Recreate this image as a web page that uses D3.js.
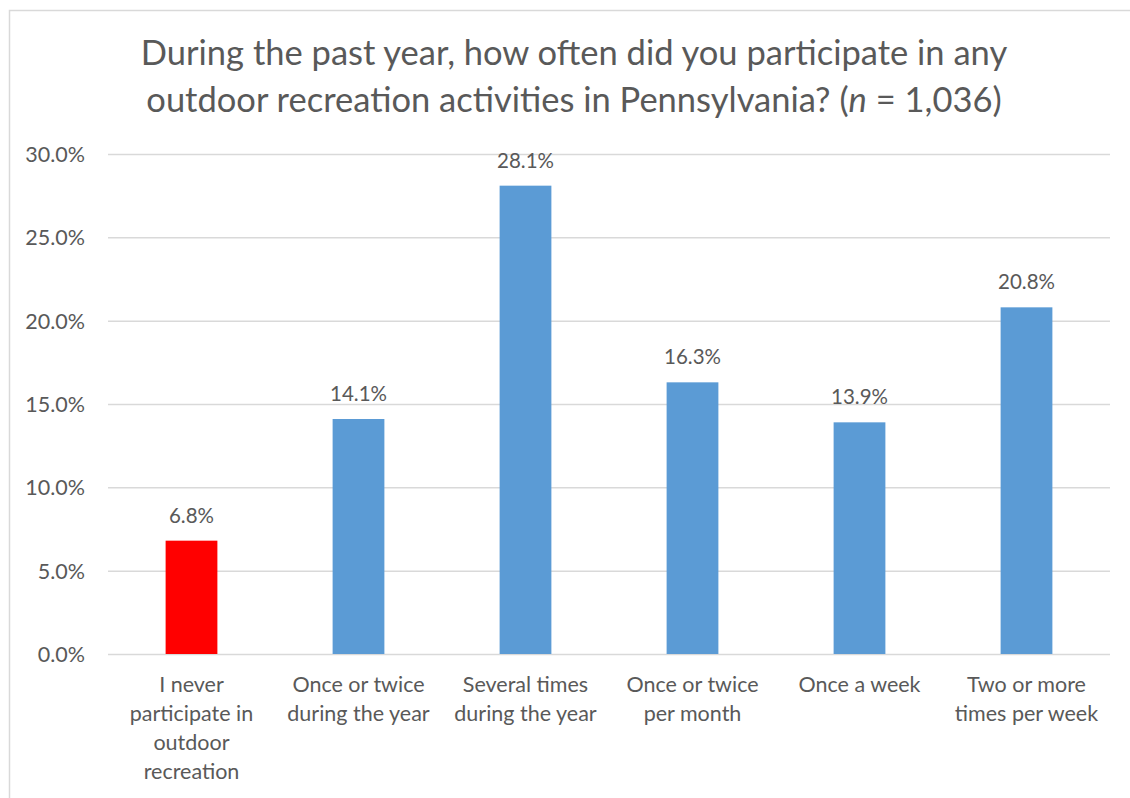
<!DOCTYPE html>
<html><head><meta charset="utf-8">
<script src="https://cdn.jsdelivr.net/npm/d3@7"></script>
<style>body{margin:0;background:#fff}svg{display:block}text{font-family:Lato,"Open Sans",sans-serif;fill:#595959}</style>
</head><body>
<svg id="c" width="1130" height="798"></svg>
<script>
const categories = [
  ["I never","participate in","outdoor","recreation"],
  ["Once or twice","during the year"],
  ["Several times","during the year"],
  ["Once or twice","per month"],
  ["Once a week"],
  ["Two or more","times per week"]
];
const values = [6.8, 14.1, 28.1, 16.3, 13.9, 20.8];
const barColors = ["#FF0000","#5B9BD5","#5B9BD5","#5B9BD5","#5B9BD5","#5B9BD5"];
const yTicks = [0,5,10,15,20,25,30];

(function(){
const svg = d3.select("#c");
svg.append("rect").attr("x",9.5).attr("y",10.5).attr("width",1140).attr("height",800)
  .attr("fill","#fff").attr("stroke","#d9d9d9").attr("stroke-width",1.5);

const pl=108, pr=1110, pt=154, pb=654;
const x = d3.scaleBand().domain(d3.range(categories.length)).range([pl,pr]).paddingInner(0.69).paddingOuter(0.345);
const y = d3.scaleLinear().domain([0,30]).range([pb,pt]);

const title = svg.append("text").attr("text-anchor","middle").style("font-size","34.5px");
title.append("tspan").attr("x",574).attr("y",65).text("During the past year, how often did you participate in any");
const t2 = title.append("tspan").attr("x",574).attr("y",112);
t2.append("tspan").text("outdoor recreation activities in Pennsylvania? (");
t2.append("tspan").style("font-style","italic").text("n");
t2.append("tspan").text(" = 1,036)");

const yAxis = d3.axisLeft(y).tickValues(yTicks).tickSize(-(pr-pl)).tickFormat(d=>d3.format(".1f")(d)+"%");
const ga = svg.append("g").attr("transform",`translate(${pl},0)`).call(yAxis);
ga.select(".domain").remove();
ga.selectAll(".tick line").attr("stroke","#d9d9d9").attr("stroke-width",1.5);
ga.selectAll(".tick text").attr("x",-23).attr("dy","0.35em").style("font-size","21.5px").attr("fill","#595959");

svg.selectAll("rect.bar").data(values).join("rect").attr("class","bar")
  .attr("x",(d,i)=>x(i)).attr("width",x.bandwidth())
  .attr("y",d=>y(d)).attr("height",d=>y(0)-y(d))
  .attr("fill",(d,i)=>barColors[i]);

svg.selectAll("text.val").data(values).join("text").attr("class","val")
  .attr("x",(d,i)=>x(i)+x.bandwidth()/2).attr("y",d=>y(d)-18)
  .attr("text-anchor","middle").style("font-size","20.5px")
  .text(d=>d.toFixed(1)+"%");

const cl = svg.selectAll("text.cat").data(categories).join("text").attr("class","cat")
  .attr("text-anchor","middle").style("font-size","21.5px");
cl.each(function(lines,i){
  const t=d3.select(this);
  lines.forEach((s,j)=>t.append("tspan").attr("x",x(i)+x.bandwidth()/2).attr("y",692+j*29).text(s));
});
})();
</script>
</body></html>
